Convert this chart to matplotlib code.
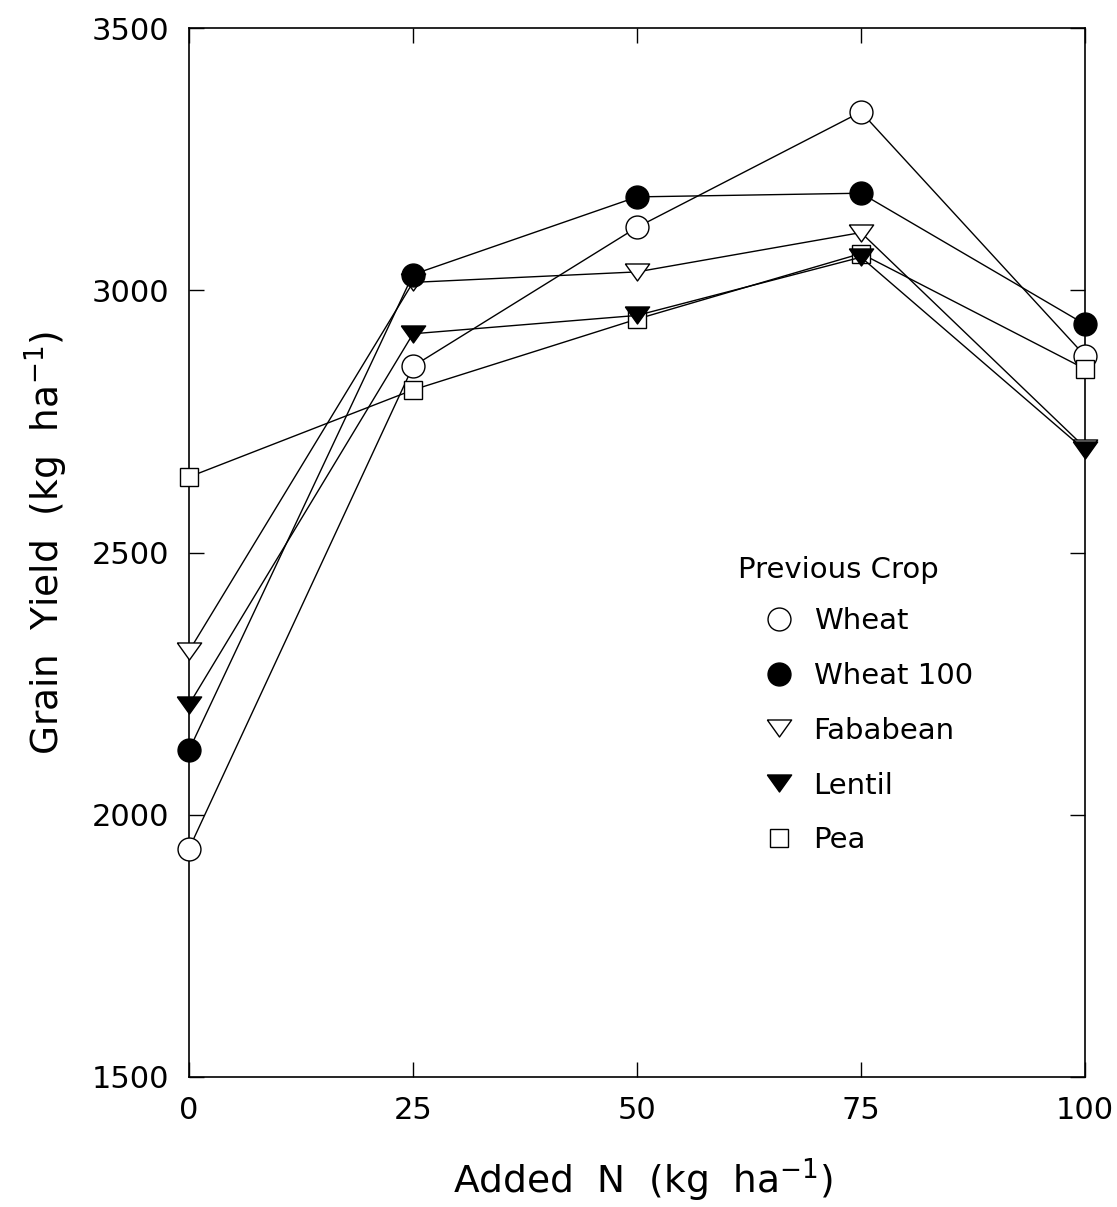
import matplotlib
matplotlib.use("Agg")
import matplotlib.pyplot as plt
from matplotlib.lines import Line2D

# data
n_added = [0, 25, 50, 75, 100]
wheat = [1935, 2855, 3120, 3340, 2875]
wheat_100 = [2123, 3030, 3178, 3185, 2935]
fababean = [2312, 3015, 3035, 3110, 2700]
lentil = [2210, 2917, 2952, 3063, 2695]
pea = [2644, 2810, 2945, 3070, 2850]

x_ticks = [0, 25, 50, 75, 100]
y_ticks = [1500, 2000, 2500, 3000, 3500]

plt.rcParams['font.family'] = ['DejaVu Sans']
plt.rcParams['mathtext.fontset'] = 'dejavusans'

W, H = 1117, 1207
fig = plt.figure(figsize=(W / 100, H / 100), dpi=100)
ax = fig.add_axes([189 / W, 1 - 1077 / H, (1085 - 189) / W, (1077 - 28) / H])

# wide down-pointing triangle, like the original
tri = [(-1, 0.7), (1, 0.7), (0, -0.7), (-1, 0.7)]

styles = {
    'Wheat': dict(marker='o', ms=16.5, mfc='white'),
    'Wheat 100': dict(marker='o', ms=16.5, mfc='black'),
    'Fababean': dict(marker=tri, ms=17.5, mfc='white'),
    'Lentil': dict(marker=tri, ms=17.5, mfc='black'),
    'Pea': dict(marker='s', ms=13.5, mfc='white'),
}
series = {'Wheat': wheat, 'Wheat 100': wheat_100, 'Fababean': fababean,
          'Lentil': lentil, 'Pea': pea}

# drawing order so filled symbols sit on top
for name in ['Wheat', 'Fababean', 'Pea', 'Wheat 100', 'Lentil']:
    ax.plot(n_added, series[name], color='black', lw=1.0, mec='black', mew=1.0,
            clip_on=False, zorder=3, **styles[name])

ax.set_xlim(0, 100)
ax.set_ylim(1500, 3500)
ax.set_xticks(x_ticks)
ax.set_yticks(y_ticks)
ax.tick_params(direction='in', length=11, width=1.0, top=True, right=True,
               labelsize=22, pad=14)
for s in ax.spines.values():
    s.set_linewidth(1.2)

fig.text(643 / W, 1 - 1180 / H, 'Added  N  (kg  ha$^{-1}$)', fontsize=27,
         ha='center', va='center')
fig.text(46 / W, 1 - 543 / H, 'Grain  Yield  (kg  ha$^{-1}$)', fontsize=27,
         ha='center', va='center', rotation=90)

# legend
handles = [Line2D([], [], color='black', ls='none', mec='black', mew=1.0,
                  **styles[k]) for k in ['Wheat', 'Wheat 100', 'Fababean', 'Lentil', 'Pea']]
labels = ['Wheat', 'Wheat 100', 'Fababean', 'Lentil', 'Pea']
ax.legend(handles, labels, loc='upper left', frameon=False, fontsize=21,
          bbox_to_anchor=(764 / W, 1 - 607 / H), bbox_transform=fig.transFigure,
          borderpad=0, borderaxespad=0, handlelength=1.0, handletextpad=0.7,
          labelspacing=0.92)
fig.text(738 / W, 1 - 578 / H, 'Previous Crop', fontsize=21, ha='left', va='baseline')

fig.savefig('out.png', dpi=100)
